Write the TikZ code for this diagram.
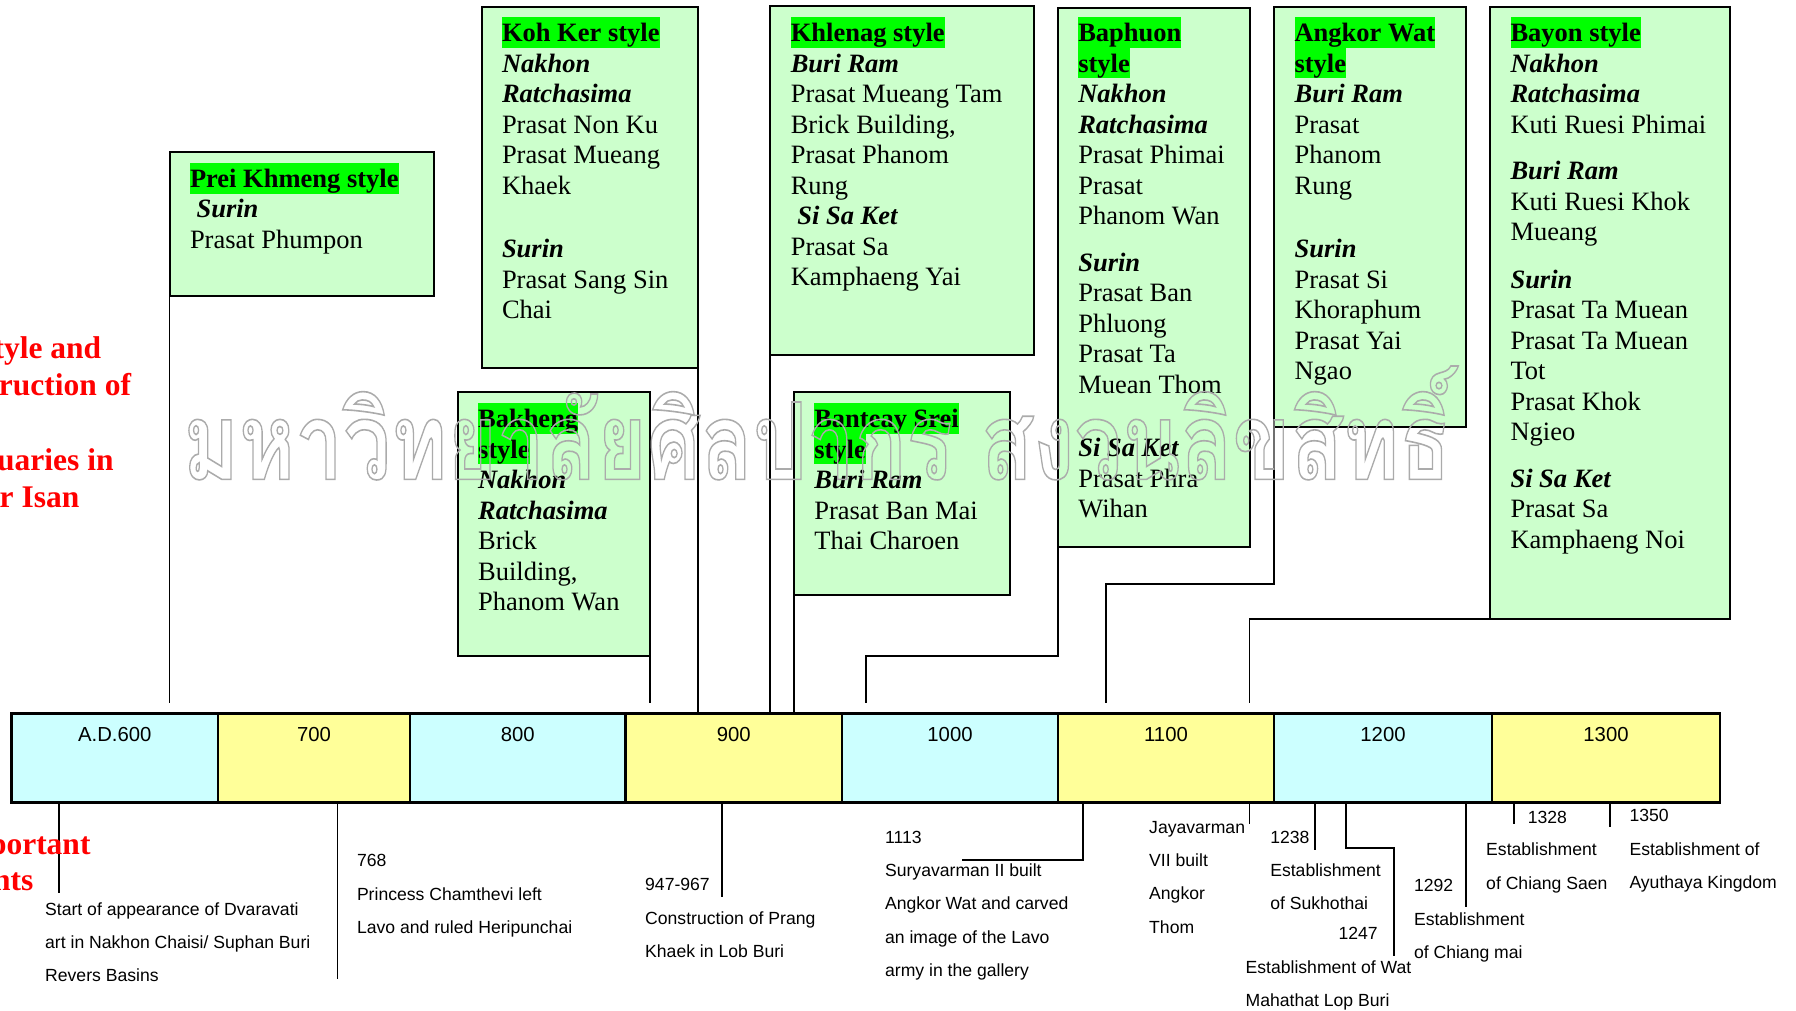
\documentclass[tikz,border=0pt]{standalone}
\usepackage{fontspec}
\usepackage{graphicx}
\setmainfont{Liberation Serif}
\newfontfamily\sansev{Liberation Sans}
% stroked Thai face for the watermark outline
\newfontfamily\wmfont[Script=Thai,FakeBold=1.5]{Loma}

\definecolor{boxgreen}{HTML}{CCFFCC}
\definecolor{hlgreen}{HTML}{00FF00}
\definecolor{barcyan}{HTML}{CCFFFF}
\definecolor{baryellow}{HTML}{FFFF99}
\definecolor{wmgray}{HTML}{ABABAB}

% highlighted style title (bold on bright green)
\newcommand\hlt[1]{{\setlength{\fboxsep}{0pt}\colorbox{hlgreen}{\rule[-6.2pt]{0pt}{30.5pt}\bfseries #1}}}
% province name
\newcommand\prov[1]{{\bfseries\itshape #1}}

\tikzset{
  stylebox/.style={draw=black, line width=2pt, fill=boxgreen, inner sep=0pt, outer sep=0pt, anchor=north west},
  boxtext/.style={anchor=north west, inner sep=0pt, outer sep=0pt, align=left, font=\fontsize{26.5}{30.5}\selectfont},
  cell/.style={draw=black, line width=2.5pt, inner sep=0pt, outer sep=0pt, anchor=north west, minimum height=89.4pt},
  yearlbl/.style={anchor=base, inner sep=0pt, font=\sansev\fontsize{20.3}{24}\selectfont},
  evtext/.style={anchor=north west, inner sep=0pt, outer sep=0pt, align=left, font=\sansev\fontsize{17.6}{33.3}\selectfont},
  evnum/.style={inner sep=0pt, font=\sansev\fontsize{17.6}{20}\selectfont},
  conn/.style={draw=black, line width=1.8pt},
  redtitle/.style={anchor=base east, inner sep=0pt, text=red, font=\fontsize{31.5}{37}\selectfont\bfseries},
  wmark/.style={inner sep=0pt, outer sep=0pt, anchor=south west, text=wmgray},
}

\begin{document}
\begin{tikzpicture}[x=1pt,y=-1pt]
\useasboundingbox (0,0) rectangle (1796,1011);
\fill[white] (0,0) rectangle (1796,1011);

% ---------- style boxes ----------
\node[stylebox, minimum width=264.5pt, minimum height=144pt]   (prei)    at (169.5,152)  {};
\node[stylebox, minimum width=216.1pt, minimum height=360.5pt] (kohker)  at (481.5,7.5)  {};
\node[stylebox, minimum width=192pt,   minimum height=264.3pt] (bakheng) at (457.6,391.7){};
\node[stylebox, minimum width=264.1pt, minimum height=349pt]   (khlenag) at (770.3,6)    {};
\node[stylebox, minimum width=216.2pt, minimum height=203.3pt] (banteay) at (793.8,391.7){};
\node[stylebox, minimum width=192.2pt, minimum height=539pt]   (baphuon) at (1057.8,8)   {};
\node[stylebox, minimum width=191.9pt, minimum height=419.5pt] (angkor)  at (1274.1,7.5) {};
\node[stylebox, minimum width=240pt,   minimum height=611.5pt] (bayon)   at (1490,7.5)   {};

\node[boxtext] (preit) at (190,163.1) {\hlt{Prei Khmeng style}\\
  \hspace{6.6pt}\prov{Surin}\\
  Prasat Phumpon};

\node[boxtext] (kohkert) at (502,17.4) {\hlt{Koh Ker style}\\
  \prov{Nakhon}\\ \prov{Ratchasima}\\
  Prasat Non Ku\\ Prasat Mueang\\ Khaek\\[33pt]
  \prov{Surin}\\ Prasat Sang Sin\\ Chai};

\node[boxtext] (bakhengt) at (478.1,403.4) {\hlt{Bakheng}\\ \hlt{style}\\
  \prov{Nakhon}\\ \prov{Ratchasima}\\
  Brick\\ Building,\\ Phanom Wan};

\node[boxtext] (khlenagt) at (790.8,17.4) {\hlt{Khlenag style}\\
  \prov{Buri Ram}\\
  Prasat Mueang Tam\\ Brick Building,\\ Prasat Phanom\\ Rung\\
  \hspace{6.6pt}\prov{Si Sa Ket}\\
  Prasat Sa\\ Kamphaeng Yai};

\node[boxtext] (banteayt) at (814.3,403.4) {\hlt{Banteay Srei}\\ \hlt{style}\\
  \prov{Buri Ram}\\
  Prasat Ban Mai\\ Thai Charoen};

\node[boxtext] (baphuont) at (1078.3,17.4) {\hlt{Baphuon}\\ \hlt{style}\\
  \prov{Nakhon}\\ \prov{Ratchasima}\\
  Prasat Phimai\\ Prasat\\ Phanom Wan\\[16pt]
  \prov{Surin}\\ Prasat Ban\\ Phluong\\ Prasat Ta\\ Muean Thom\\[33pt]
  \prov{Si Sa Ket}\\ Prasat Phra\\ Wihan};

\node[boxtext] (angkort) at (1294.6,17.4) {\hlt{Angkor Wat}\\ \hlt{style}\\
  \prov{Buri Ram}\\
  Prasat\\ Phanom\\ Rung\\[33pt]
  \prov{Surin}\\ Prasat Si\\ Khoraphum\\ Prasat Yai\\ Ngao};

\node[boxtext] (bayont) at (1510.5,17.4) {\hlt{Bayon style}\\
  \prov{Nakhon}\\ \prov{Ratchasima}\\
  Kuti Ruesi Phimai\\[16pt]
  \prov{Buri Ram}\\ Kuti Ruesi Khok\\ Mueang\\[17pt]
  \prov{Surin}\\ Prasat Ta Muean\\ Prasat Ta Muean\\ Tot\\ Prasat Khok\\ Ngieo\\[16pt]
  \prov{Si Sa Ket}\\ Prasat Sa\\ Kamphaeng Noi};

% ---------- timeline bar ----------
\node[cell, fill=barcyan,    minimum width=206.5pt] (c600)  at (11.5,713.3) {};
\node[cell, fill=baryellow,  minimum width=192pt]   (c700)  at (218,713.3)  {};
\node[cell, fill=barcyan,    minimum width=215.6pt] (c800)  at (410,713.3)  {};
\node[cell, fill=baryellow,  minimum width=216.4pt] (c900)  at (625.6,713.3){};
\node[cell, fill=barcyan,    minimum width=216pt]   (c1000) at (842,713.3)  {};
\node[cell, fill=baryellow,  minimum width=216pt]   (c1100) at (1058,713.3) {};
\node[cell, fill=barcyan,    minimum width=218pt]   (c1200) at (1274,713.3) {};
\node[cell, fill=baryellow,  minimum width=228pt]   (c1300) at (1492,713.3) {};

\node[yearlbl] (l600)  at (114.75,741.7) {A.D.600};
\node[yearlbl] (l700)  at (314,741.7)    {700};
\node[yearlbl] (l800)  at (517.8,741.7)  {800};
\node[yearlbl] (l900)  at (733.8,741.7)  {900};
\node[yearlbl] (l1000) at (950,741.7)    {1000};
\node[yearlbl] (l1100) at (1166,741.7)   {1100};
\node[yearlbl] (l1200) at (1383,741.7)   {1200};
\node[yearlbl] (l1300) at (1606,741.7)   {1300};

% ---------- connectors from the style boxes ----------
\coordinate (preiend)  at (169.5,703);
\coordinate (bakhend)  at (649.6,703);
\coordinate (baphend)  at (865.7,703);
\coordinate (angkend)  at (1105.7,703);
\coordinate (bayend)   at (1249.4,703);

\draw[conn] (prei.south west) -- (preiend);
\draw[conn] (kohker.south east) -- (kohker.south east |- c900.north);
\draw[conn] (bakheng.south east) -- (bakhend);
\draw[conn] (khlenag.south west) -- (khlenag.south west |- c900.north);
\draw[conn] (banteay.south west) -- (banteay.south west |- c900.north);
\draw[conn] (baphuon.south west) -- ++(0,109) -| (baphend);
\draw[conn] (angkor.south west) -- ++(0,157) -| (angkend);
\draw[conn] (bayon.south west) -| (bayend);

% ---------- events below the bar ----------
\coordinate (e600)  at (59.3,893.3);
\coordinate (e768)  at (337.5,979.3);
\coordinate (e947)  at (721.7,896.7);
\coordinate (k1113) at (1083,860);
\coordinate (e1113) at (961.7,860);
\coordinate (e1181) at (1249.4,824);
\coordinate (e1238) at (1314.8,850);
\coordinate (k1247) at (1345.6,848.3);
\coordinate (e1247) at (1394.2,956);
\coordinate (e1292) at (1466,907.3);
\coordinate (e1328) at (1514,824);
\coordinate (e1350) at (1609.7,826.7);

\draw[conn] (c600.south -| e600) -- (e600);
\draw[conn] (c700.south -| e768) -- (e768);
\draw[conn] (c900.south -| e947) -- (e947);
\draw[conn] (c1100.south -| k1113) -- (k1113) -- (e1113);
\draw[conn] (c1100.south -| e1181) -- (e1181);
\draw[conn] (c1200.south -| e1238) -- (e1238);
\draw[conn] (c1200.south -| k1247) -- (k1247) -| (e1247);
\draw[conn] (c1200.south -| e1292) -- (e1292);
\draw[conn] (c1300.south -| e1328) -- (e1328);
\draw[conn] (c1300.south -| e1350) -- (e1350);

\node[evtext] (t600) at (45.2,899) {\rule{0pt}{16pt}Start of appearance of Dvaravati\\
  art in Nakhon Chaisi/ Suphan Buri\\ Revers Basins};
\node[evtext] (t768) at (357,850.7) {\rule{0pt}{16pt}768\\
  Princess Chamthevi left\\ Lavo and ruled Heripunchai};
\node[evtext] (t947) at (645.2,874.7) {\rule{0pt}{16pt}947-967\\
  Construction of Prang\\ Khaek in Lob Buri};
\node[evtext] (t1113) at (885.1,827.3) {\rule{0pt}{16pt}1113\\
  Suryavarman II built\\ Angkor Wat and carved\\ an image of the Lavo\\ army in the gallery};
\node[evtext] (t1181) at (1149.2,817.3) {\rule{0pt}{16pt}Jayavarman\\
  VII built\\ Angkor\\ Thom};
\node[evtext] (t1238) at (1270.3,827.3) {\rule{0pt}{16pt}1238\\
  Establishment\\ of Sukhothai};
\node[evnum, anchor=base east] (n1247) at (1377.9,939.3) {1247};
\node[evtext] (t1247) at (1245.6,957.3) {\rule{0pt}{16pt}Establishment of Wat\\
  Mahathat Lop Buri};
\node[evtext] (t1292) at (1414,875.7) {\rule{0pt}{16pt}1292\\
  Establishment\\ of Chiang mai};
\node[evnum, anchor=base west] (n1328) at (1527.6,823.3) {1328};
\node[evtext] (t1328) at (1486.2,839.7) {\rule{0pt}{16pt}Establishment\\
  of Chiang Saen};
\node[evtext] (t1350) at (1629.5,805.7) {\rule{0pt}{16pt}1350\\
  Establishment of\\ Ayuthaya Kingdom};

% ---------- red headings at the left edge ----------
\node[redtitle] (h1) at (101.4,358.3) {tyle and};
\node[redtitle] (h2) at (131.3,395)   {ruction of};
\node[redtitle] (h3) at (113.8,470)   {uaries in};
\node[redtitle] (h4) at (79.5,507.3)  {r Isan};
\node[redtitle] (h5) at (90.7,854)    {portant};
\node[redtitle] (h6) at (33.7,890.7)  {nts};

% ---------- watermark: glyphs stroked only, fill made fully transparent ----------
\node[wmark] (wm) at (183,480)
  {\pgfsetfillopacity{0}\resizebox*{1268pt}{114pt}{\wmfont\bfseries\fontsize{100}{100}\selectfont มหาวิทยาลัยศิลปากร\ สงวนลิขสิทธิ์}};
\end{tikzpicture}
\end{document}
